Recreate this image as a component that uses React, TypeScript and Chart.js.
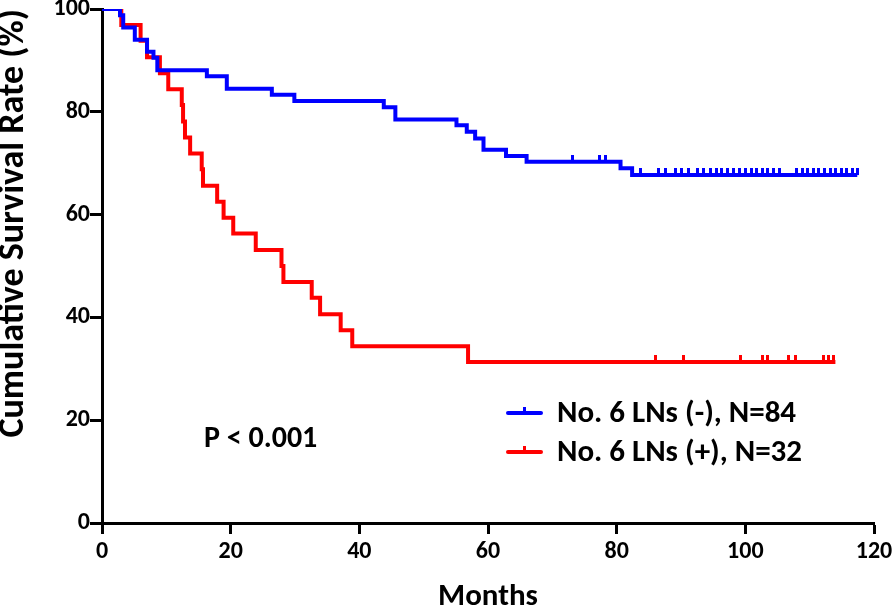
import React, { useEffect, useRef } from "react";
import { Chart, registerables } from "chart.js";

Chart.register(...registerables);

// ---- data ----
const blueTimes = [0, 2.8, 3.3, 5.1, 7.0, 8.0, 8.6, 16.3, 19.4, 26.4, 29.9, 43.8, 45.6, 55.1, 56.7, 58.0, 59.3, 62.8, 66.0, 80.6, 82.4, 117.4];
const blueSurv = [100, 98.8, 96.4, 94.0, 91.7, 90.5, 88.1, 86.9, 84.5, 83.3, 82.1, 80.9, 78.5, 77.4, 76.1, 74.8, 72.6, 71.4, 70.3, 69.0, 67.7, 67.7];
const blueCensor = [73.2, 77.3, 78.3, 83.7, 86.5, 87.6, 89.1, 90.1, 91.2, 92.5, 93.5, 94.6, 95.5, 96.3, 97.2, 98.2, 99.1, 100.0, 101.0, 101.8, 102.7, 103.5, 104.4, 105.3, 108.0, 108.9, 109.7, 110.6, 111.4, 112.3, 113.2, 114.0, 114.9, 115.8, 116.6, 117.4];

const redTimes = [0, 3.0, 6.0, 7.0, 9.0, 10.3, 12.4, 12.6, 12.9, 13.7, 15.5, 15.7, 17.9, 18.9, 20.4, 23.9, 27.9, 28.2, 32.6, 33.9, 37.1, 38.9, 56.9, 114.0];
const redSurv = [100, 96.9, 93.8, 90.6, 87.5, 84.4, 81.3, 78.1, 75.0, 71.9, 68.8, 65.6, 62.5, 59.4, 56.3, 53.1, 50.0, 46.9, 43.8, 40.6, 37.5, 34.4, 31.3, 31.3];
const redCensor = [86.1, 90.4, 99.3, 102.7, 103.4, 106.7, 107.8, 112.1, 113.0, 113.7];

const seriesLabels = ["No. 6 LNs (-), N=84", "No. 6 LNs (+), N=32"];
const seriesColors = ["#0000FF", "#FF0000"];
const pValueText = "P < 0.001";
const xTitle = "Months";
const yTitle = "Cumulative Survival Rate (%)";
const xRange = [0, 120];
const yRange = [0, 100];
const tickStep = 20;

const FONT = "Carlito, Lato, 'Open Sans', sans-serif";

function survAt(times: number[], surv: number[], t: number) {
  let v = surv[0];
  for (let i = 0; i < times.length; i++) if (times[i] <= t) v = surv[i];
  return v;
}

function tickMark(color: string) {
  const c = document.createElement("canvas");
  c.width = 3;
  c.height = 14;
  const g = c.getContext("2d")!;
  g.fillStyle = color;
  g.fillRect(0, 0, 3, 7);
  return c;
}

const overlay = {
  id: "overlay",
  afterDraw(chart: any) {
    const ctx = chart.ctx;
    ctx.save();
    ctx.textBaseline = "middle";
    ctx.textAlign = "left";
    const rows = [413, 452];
    ctx.font = `bold 31px ${FONT}`;
    seriesLabels.forEach((lab, i) => {
      const y = rows[i];
      ctx.strokeStyle = seriesColors[i];
      ctx.lineWidth = 4;
      ctx.lineCap = "round";
      ctx.beginPath();
      ctx.moveTo(508, y);
      ctx.lineTo(541, y);
      ctx.stroke();
      ctx.fillStyle = seriesColors[i];
      ctx.fillRect(523, y - 6, 3, 6);
      ctx.fillStyle = "#000";
      ctx.fillText(lab, 557, y + 1);
    });
    ctx.font = `bold 30px ${FONT}`;
    ctx.fillStyle = "#000";
    ctx.fillText(pValueText, 204, 439);
    ctx.restore();
  },
};

export default function App() {
  const ref = useRef<HTMLCanvasElement>(null);
  useEffect(() => {
    const blueLine = blueTimes.map((t, i) => ({ x: t, y: blueSurv[i] }));
    const redLine = redTimes.map((t, i) => ({ x: t, y: redSurv[i] }));
    const blueC = blueCensor.map((t) => ({ x: t, y: survAt(blueTimes, blueSurv, t) }));
    const redC = redCensor.map((t) => ({ x: t, y: survAt(redTimes, redSurv, t) }));
    const chart = new Chart(ref.current!, {
      type: "line",
      data: {
        datasets: [
          { label: seriesLabels[0], data: blueLine, borderColor: seriesColors[0], borderWidth: 4, stepped: true, pointRadius: 0, order: 1 },
          { label: "bc", data: blueC, showLine: false, pointStyle: tickMark(seriesColors[0]) as any, pointRadius: 5, order: 1 },
          { label: seriesLabels[1], data: redLine, borderColor: seriesColors[1], borderWidth: 4, stepped: true, pointRadius: 0, order: 2 },
          { label: "rc", data: redC, showLine: false, pointStyle: tickMark(seriesColors[1]) as any, pointRadius: 5, order: 2 },
        ],
      },
      options: {
        animation: false,
        responsive: false,
        layout: { padding: { top: 9, right: 20, left: 0, bottom: 0 } },
        plugins: { legend: { display: false }, tooltip: { enabled: false } },
        scales: {
          x: {
            type: "linear",
            min: xRange[0],
            max: xRange[1],
            grid: { drawOnChartArea: false, tickLength: 11, tickWidth: 3, color: "#000" },
            border: { display: true, width: 3, color: "#000" },
            ticks: { stepSize: tickStep, color: "#000", padding: 4, font: { family: FONT, size: 24, weight: "bold" }, maxRotation: 0 },
            title: { display: true, text: xTitle, color: "#000", font: { family: FONT, size: 31, weight: "bold", lineHeight: 1.0 }, padding: { top: 0, bottom: 2 } },
            afterFit(s: any) {
              s.height = 92;
              s.paddingLeft = 0;
              s.paddingRight = 0;
            },
          },
          y: {
            min: yRange[0],
            max: yRange[1],
            grid: { drawOnChartArea: false, tickLength: 12, tickWidth: 3, color: "#000" },
            border: { display: true, width: 3, color: "#000" },
            ticks: { stepSize: tickStep, color: "#000", padding: 0, font: { family: FONT, size: 24, weight: "bold" } },
            title: { display: true, text: yTitle, align: "end", color: "#000", font: { family: FONT, size: 36, weight: "bold", lineHeight: 0.75 }, padding: { top: 0, bottom: 0 } },
            afterFit(s: any) {
              s.width = 102;
              s.paddingTop = 0;
              s.paddingBottom = 0;
            },
          },
        },
      },
      plugins: [overlay],
    } as any);
    return () => chart.destroy();
  }, []);
  return (
    <div style={{ position: "fixed", left: 0, top: 0, width: 894, height: 615, background: "#fff" }}>
      <canvas ref={ref} width={894} height={615} style={{ width: 894, height: 615 }} />
    </div>
  );
}
